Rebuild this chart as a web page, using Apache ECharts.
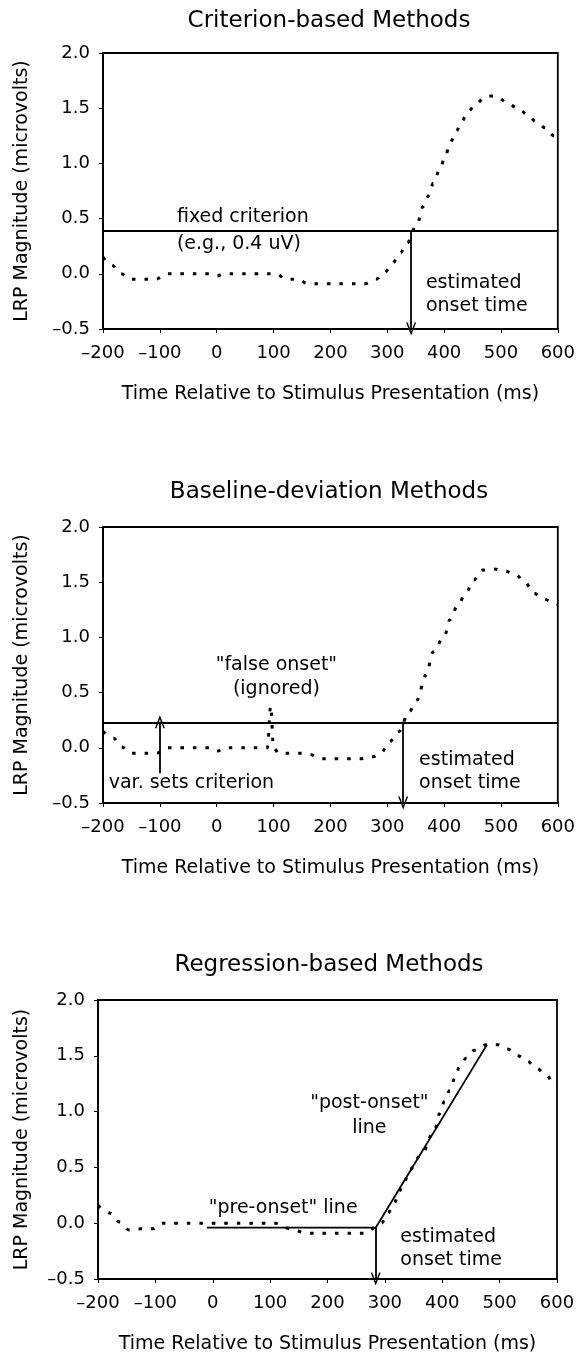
<!DOCTYPE html>
<html>
<head>
<meta charset="utf-8">
<script src="https://cdn.jsdelivr.net/npm/echarts@6/dist/echarts.min.js"></script>
<style>
  html, body { margin: 0; padding: 0; background: #fff; }
  #chart { width: 578px; height: 1357px; }
</style>
</head>
<body>
<div id="chart"></div>
<script>
// panel titles
var titles = ['Criterion-based Methods', 'Baseline-deviation Methods', 'Regression-based Methods'];

// LRP waveform, panel A (criterion)
var timeA = [-200, -185, -168, -152, -130, -107, -89, -60, -30, -10, 0, 12, 40, 70, 105, 122, 143, 160, 195, 230, 262, 280, 295, 309, 323, 335, 353, 363, 373, 381, 392, 402, 410, 421, 431, 442, 457, 471, 483, 495, 512, 530, 547, 561, 579, 593, 600];
var lrpA = [0.15, 0.08, 0.0, -0.05, -0.05, -0.05, 0.0, 0.0, 0.0, 0.0, -0.02, 0.0, 0.0, 0.0, 0.0, -0.05, -0.05, -0.09, -0.09, -0.09, -0.09, -0.05, 0.01, 0.095, 0.19, 0.28, 0.46, 0.61, 0.71, 0.82, 0.94, 1.06, 1.18, 1.29, 1.38, 1.47, 1.54, 1.60, 1.61, 1.60, 1.54, 1.50, 1.44, 1.38, 1.32, 1.25, 1.24];

// panel B (baseline deviation, with the false onset spike)
var timeB = [-200, -182, -168, -150, -130, -106, -89, -60, -30, -10, 1, 15, 40, 60, 80, 89, 95, 100, 109, 130, 150, 164, 184, 210, 230, 252, 275, 290, 303, 320, 339, 352, 368, 381, 401, 410, 423, 439, 452, 468, 487, 507, 526, 542, 558, 574, 594, 600];
var lrpB = [0.15, 0.09, 0.01, -0.05, -0.05, -0.05, 0.0, 0.0, 0.0, 0.0, -0.03, 0.0, 0.0, 0.0, 0.0, 0.0, 0.38, 0.0, -0.05, -0.05, -0.05, -0.06, -0.1, -0.1, -0.1, -0.1, -0.08, -0.04, 0.05, 0.145, 0.33, 0.43, 0.66, 0.87, 1.02, 1.16, 1.28, 1.41, 1.52, 1.61, 1.62, 1.60, 1.57, 1.50, 1.40, 1.35, 1.31, 1.30];

// panel C (regression)
var timeC = [-200, -178, -162, -146, -125, -104, -88, -60, -30, 0, 30, 60, 90, 109, 135, 164, 200, 230, 265, 294, 305, 317, 323, 334, 343, 363, 387, 395, 404, 413, 422, 430, 442, 456, 477, 497, 514, 532, 549, 564, 581, 594, 600];
var lrpC = [0.16, 0.09, 0.01, -0.06, -0.05, -0.05, 0.0, 0.0, 0.0, 0.0, 0.0, 0.0, 0.0, 0.0, -0.05, -0.09, -0.09, -0.09, -0.09, 0.0, 0.09, 0.18, 0.27, 0.37, 0.48, 0.61, 0.84, 0.98, 1.09, 1.19, 1.30, 1.40, 1.48, 1.55, 1.60, 1.60, 1.56, 1.50, 1.45, 1.39, 1.33, 1.26, 1.24];

// criterion levels and onset estimates
var criterionA = 0.39, onsetA = 342;
var criterionB = 0.235, onsetB = 328;
var varArrowB = [-100, -0.23];
var onsetC = [284, -0.04];
var preStartC = [-10, -0.04];
var postEndC = [478, 1.6];

// annotations [time, value, text, anchor]
var notesA = [[-70, 0.51, 'fixed criterion', 'l'], [-70, 0.27, '(e.g., 0.4 uV)', 'l'], [368, -0.08, 'estimated', 'l'], [368, -0.29, 'onset time', 'l']];
var notesB = [[105, 0.75, '"false onset"', 'c'], [105, 0.53, '(ignored)', 'c'], [-190, -0.32, 'var. sets criterion', 'l'], [356, -0.11, 'estimated', 'l'], [356, -0.32, 'onset time', 'l']];
var notesC = [[-7, 0.14, '"pre-onset" line', 'l'], [273, 1.08, '"post-onset"', 'c'], [273, 0.85, 'line', 'c'], [327, -0.12, 'estimated', 'l'], [327, -0.33, 'onset time', 'l']];

var font = 'DejaVu Sans';
var arrowHead = 'path://M5,0 L10,10 L8.5,10 L5,3 L1.5,10 L0,10 Z';

var chart = echarts.init(document.getElementById('chart'));

function pairs(xs, ys) {
  var out = [];
  for (var i = 0; i < xs.length; i++) out.push([xs[i], ys[i]]);
  return out;
}

function dash(v) {
  return String(v).replace('-', '\u2013');
}

var grids = [
  { left: 103, top: 53, width: 459, height: 276 },
  { left: 103, top: 527, width: 459, height: 276 },
  { left: 98, top: 1000, width: 459, height: 279 }
];
var yNameGap = [71, 71, 66];

var xAxes = [], yAxes = [], series = [];
for (var k = 0; k < 3; k++) {
  grids[k].show = true;
  grids[k].borderColor = '#000';
  grids[k].borderWidth = 1.8;
  xAxes.push({
    type: 'value', gridIndex: k, min: -200, max: 600, interval: 100,
    name: 'Time Relative to Stimulus Presentation (ms)',
    nameLocation: 'middle', nameGap: 56,
    nameTextStyle: { color: '#000', fontSize: 19, fontFamily: font },
    axisLine: { onZero: false, lineStyle: { color: '#000', width: 1.8 } },
    axisTick: { show: true, length: 4, lineStyle: { color: '#000' } },
    axisLabel: { color: '#000', fontSize: 18, fontFamily: font, margin: 15, formatter: dash },
    splitLine: { show: false }
  });
  yAxes.push({
    type: 'value', gridIndex: k, min: -0.5, max: 2.0, interval: 0.5,
    name: 'LRP Magnitude (microvolts)',
    nameLocation: 'middle', nameGap: yNameGap[k],
    nameTextStyle: { color: '#000', fontSize: 19, fontFamily: font },
    axisLine: { onZero: false, lineStyle: { color: '#000', width: 1.8 } },
    axisTick: { show: true, length: 4, lineStyle: { color: '#000' } },
    axisLabel: { color: '#000', fontSize: 18, fontFamily: font, margin: 13,
      formatter: function (v) { return dash(v.toFixed(1)); } },
    splitLine: { show: false }
  });
}

function wave(k, xs, ys) {
  return {
    type: 'line', xAxisIndex: k, yAxisIndex: k, data: pairs(xs, ys),
    smooth: 0.35, smoothMonotone: 'x', showSymbol: false, silent: true, z: 3,
    lineStyle: { color: '#000', width: 3, type: [3.5, 9], cap: 'butt' }
  };
}

function notes(k, list) {
  return {
    type: 'scatter', xAxisIndex: k, yAxisIndex: k, symbolSize: 0, silent: true, z: 5,
    itemStyle: { opacity: 1 },
    data: list.map(function (n) {
      return {
        value: [n[0], n[1]],
        label: {
          show: true, formatter: n[2], color: '#000', fontSize: 19, fontFamily: font,
          position: n[3] === 'c' ? 'inside' : 'right', distance: 0
        }
      };
    })
  };
}

function guides(k, lines) {
  return {
    type: 'line', xAxisIndex: k, yAxisIndex: k, data: [], silent: true, z: 4,
    markLine: {
      silent: true, animation: false,
      symbol: ['none', 'none'],
      label: { show: false },
      lineStyle: { color: '#000', width: 1.8, type: 'solid' },
      emphasis: { disabled: true },
      data: lines
    }
  };
}

function arrow(x, y0, x1, y1) {
  return [
    { coord: [x, y0], symbol: 'none' },
    { coord: [x1, y1], symbol: arrowHead, symbolSize: [10, 13] }
  ];
}

// panel A
series.push(wave(0, timeA, lrpA));
series.push(guides(0, [
  { yAxis: criterionA },
  arrow(onsetA, criterionA, onsetA, -0.5)
]));
series.push(notes(0, notesA));

// panel B
series.push(wave(1, timeB, lrpB));
series.push(guides(1, [
  { yAxis: criterionB },
  arrow(onsetB, criterionB, onsetB, -0.5),
  arrow(varArrowB[0], varArrowB[1], varArrowB[0], criterionB)
]));
series.push(notes(1, notesB));

// panel C
series.push(wave(2, timeC, lrpC));
series.push({
  type: 'line', xAxisIndex: 2, yAxisIndex: 2, silent: true, z: 4,
  data: [preStartC, onsetC, postEndC], showSymbol: false,
  lineStyle: { color: '#000', width: 1.8 }
});
series.push(guides(2, [
  arrow(onsetC[0], onsetC[1], onsetC[0], -0.5)
]));
series.push(notes(2, notesC));

var titleTops = [10, 481, 954];
var option = {
  animation: false,
  backgroundColor: '#fff',
  title: titles.map(function (t, i) {
    return {
      text: t, left: 329, top: titleTops[i], textAlign: 'center', padding: 0,
      textStyle: { color: '#000', fontSize: 23, fontWeight: 'normal', fontFamily: font }
    };
  }),
  grid: grids,
  xAxis: xAxes,
  yAxis: yAxes,
  series: series
};

option && chart.setOption(option);
</script>
</body>
</html>
